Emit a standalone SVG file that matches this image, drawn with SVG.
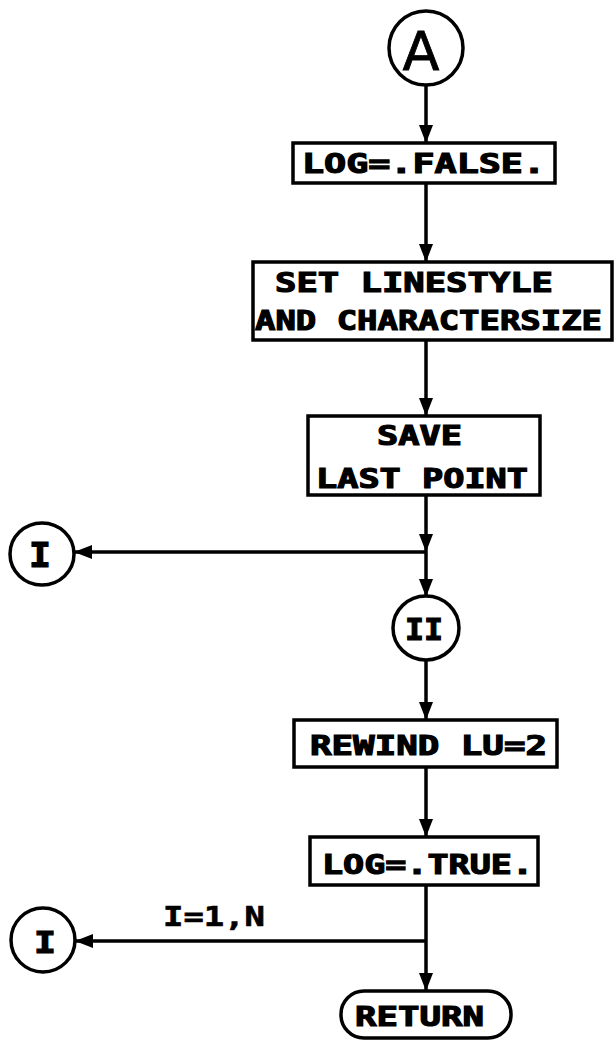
<svg xmlns="http://www.w3.org/2000/svg" width="614" height="1040" viewBox="0 0 614 1040">
<style>
.box{fill:#fff;stroke:#000;stroke-width:3.5}
.con{fill:none;stroke:#000;stroke-width:3.5}
.t{font-family:"DejaVu Sans Mono","Liberation Mono",monospace;font-weight:bold;font-size:27px;fill:#000;stroke:#000;stroke-width:1.2}
</style>
<defs>
<marker id="ah" markerUnits="userSpaceOnUse" markerWidth="20" markerHeight="14" refX="18" refY="7" orient="auto">
<path d="M0,0 L18,7 L0,14 z" fill="#000"/>
</marker>
</defs>
<rect width="614" height="1040" fill="#fff"/>
<g id="connectors">
<line class="con" x1="426" y1="85" x2="426" y2="143" marker-end="url(#ah)"/>
<line class="con" x1="426" y1="183" x2="426" y2="262" marker-end="url(#ah)"/>
<line class="con" x1="426" y1="340" x2="426" y2="416" marker-end="url(#ah)"/>
<line class="con" x1="426" y1="495" x2="426" y2="552" marker-end="url(#ah)"/>
<line class="con" x1="426" y1="552" x2="74" y2="552" marker-end="url(#ah)"/>
<line class="con" x1="426" y1="552" x2="426" y2="597" marker-end="url(#ah)"/>
<line class="con" x1="426" y1="660" x2="426" y2="720" marker-end="url(#ah)"/>
<line class="con" x1="426" y1="767" x2="426" y2="837" marker-end="url(#ah)"/>
<line class="con" x1="426" y1="885" x2="426" y2="941"/>
<line class="con" x1="426" y1="941" x2="75" y2="941" marker-end="url(#ah)"/>
<line class="con" x1="426" y1="941" x2="426" y2="991" marker-end="url(#ah)"/>
<text class="t" x="163" y="926" textLength="102" lengthAdjust="spacingAndGlyphs" style="stroke-width:0.6">I=1,N</text>
</g>
<g id="nodeA">
<circle cx="426" cy="48" r="37" fill="#fff" stroke="#000" stroke-width="3.5"/>
<text x="421" y="70" text-anchor="middle" font-family="DejaVu Sans, sans-serif" font-size="54" stroke="#000" stroke-width="0.8">A</text>
</g>
<g id="logFalse">
<rect class="box" x="293" y="143" width="262" height="40"/>
<text class="t" x="302" y="173" textLength="243" lengthAdjust="spacingAndGlyphs">LOG=.FALSE.</text>
</g>
<g id="setLinestyle">
<rect class="box" x="253" y="262" width="359" height="78"/>
<text class="t" x="275" y="292" textLength="278" lengthAdjust="spacingAndGlyphs">SET LINESTYLE</text>
<text class="t" x="255" y="330" textLength="347" lengthAdjust="spacingAndGlyphs">AND CHARACTERSIZE</text>
</g>
<g id="saveLastPoint">
<rect class="box" x="308" y="416" width="232" height="79"/>
<text class="t" x="377" y="445" textLength="85" lengthAdjust="spacingAndGlyphs">SAVE</text>
<text class="t" x="316" y="488" textLength="212" lengthAdjust="spacingAndGlyphs">LAST POINT</text>
</g>
<g id="connI1">
<ellipse cx="42" cy="554" rx="32" ry="31" fill="#fff" stroke="#000" stroke-width="3.5"/>
<text class="t" x="29" y="567" textLength="22" lengthAdjust="spacingAndGlyphs" style="font-size:34px">I</text>
</g>
<g id="connII">
<ellipse cx="426" cy="628" rx="33" ry="32" fill="#fff" stroke="#000" stroke-width="3.5"/>
<text class="t" x="405" y="640" textLength="38" lengthAdjust="spacingAndGlyphs" style="font-size:31px">II</text>
</g>
<g id="rewind">
<rect class="box" x="294" y="720" width="263" height="47"/>
<text class="t" x="310" y="755" textLength="237" lengthAdjust="spacingAndGlyphs">REWIND LU=2</text>
</g>
<g id="logTrue">
<rect class="box" x="310" y="837" width="228" height="48"/>
<text class="t" x="322" y="874" textLength="211" lengthAdjust="spacingAndGlyphs">LOG=.TRUE.</text>
</g>
<g id="connI2">
<ellipse cx="43" cy="940" rx="32" ry="32" fill="#fff" stroke="#000" stroke-width="3.5"/>
<text class="t" x="34" y="953" textLength="22" lengthAdjust="spacingAndGlyphs" style="font-size:31px">I</text>
</g>
<g id="return">
<rect class="box" x="341" y="991" width="170" height="47" rx="23" ry="23"/>
<text class="t" x="355" y="1026" textLength="129" lengthAdjust="spacingAndGlyphs">RETURN</text>
</g>
</svg>
